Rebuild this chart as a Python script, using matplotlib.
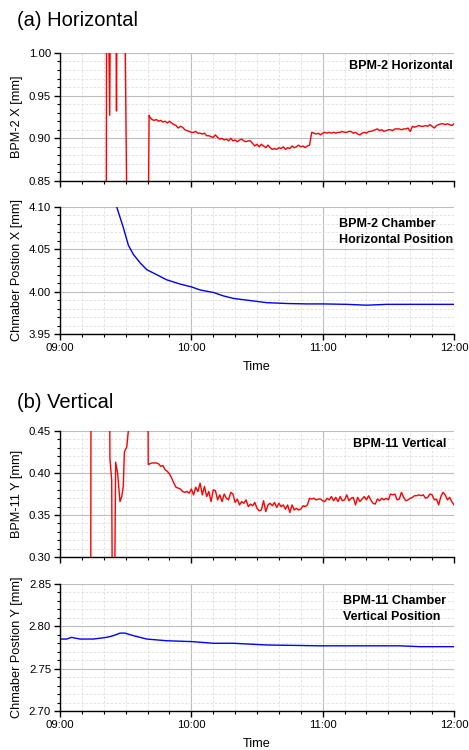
import numpy as np
import matplotlib
matplotlib.use('Agg')
import matplotlib.pyplot as plt
from matplotlib.ticker import MultipleLocator

plt.rcParams['font.family'] = ['Liberation Sans', 'DejaVu Sans']

# time axis: minutes after 09:00
tick_minutes = [0, 60, 120, 180]
tick_labels = ['09:00', '10:00', '11:00', '12:00']
minute_grid = np.arange(41, 181)

# (a) BPM-2 horizontal, start-up transient (off-scale values clipped by the axis)
bpm2_t_start = [21.0, 21.3, 21.9, 22.7, 23.1, 25.4, 25.8, 26.1, 29.4, 30.6, 40.3, 40.7]
bpm2_x_start = [0.60, 1.10, 1.10, 0.927, 1.10, 1.10, 0.932, 1.10, 1.10, 0.80, 0.80, 0.927]
bpm2_x = [
    0.925, 0.922, 0.921, 0.922, 0.920, 0.921, 0.919, 0.920, 0.918, 0.920,
    0.918, 0.916, 0.915, 0.912, 0.914, 0.913, 0.910, 0.909, 0.908, 0.907,
    0.907, 0.908, 0.906, 0.906, 0.905, 0.906, 0.903, 0.903, 0.902, 0.901,
    0.904, 0.901, 0.899, 0.900, 0.898, 0.899, 0.897, 0.900, 0.897, 0.898,
    0.896, 0.898, 0.899, 0.897, 0.896, 0.897, 0.897, 0.894, 0.891, 0.893,
    0.890, 0.893, 0.891, 0.889, 0.892, 0.889, 0.887, 0.888, 0.887, 0.889,
    0.888, 0.890, 0.887, 0.889, 0.888, 0.891, 0.889, 0.890, 0.892, 0.890,
    0.891, 0.889, 0.891, 0.892, 0.907, 0.906, 0.905, 0.906, 0.904, 0.906,
    0.907, 0.906, 0.907, 0.906, 0.907, 0.906, 0.907, 0.907, 0.908, 0.907,
    0.907, 0.908, 0.908, 0.906, 0.907, 0.905, 0.904, 0.906, 0.907, 0.906,
    0.908, 0.908, 0.909, 0.910, 0.911, 0.909, 0.910, 0.908, 0.909, 0.910,
    0.910, 0.909, 0.911, 0.911, 0.911, 0.910, 0.911, 0.911, 0.912, 0.908,
    0.914, 0.913, 0.914, 0.915, 0.914, 0.914, 0.915, 0.914, 0.916, 0.914,
    0.912, 0.915, 0.916, 0.917, 0.917, 0.916, 0.917, 0.916, 0.915, 0.917,
]

# BPM-2 chamber horizontal position
chamber_x_t = [25.9, 29.0, 31.2, 33.5, 36.6, 39.6, 44.2, 48.7, 54.8, 60.2, 64.0,
               70.1, 74.6, 79.2, 88.3, 94.4, 103.6, 112.7, 120.3, 131.0, 140.1,
               149.3, 180.0]
chamber_x = [4.100, 4.075, 4.055, 4.044, 4.034, 4.026, 4.020, 4.014, 4.009, 4.0055,
             4.002, 3.999, 3.995, 3.992, 3.989, 3.987, 3.986, 3.9855, 3.9855, 3.985,
             3.984, 3.985, 3.985]

# (b) BPM-11 vertical, start-up transient
bpm11_t_start = [14.0, 14.2, 22.4, 22.8, 23.6, 24.0, 24.8, 25.4, 26.3, 27.4, 28.2,
                 28.9, 29.4, 30.5, 31.2, 31.6, 40.0, 40.3]
bpm11_y_start = [0.20, 0.60, 0.60, 0.417, 0.392, 0.20, 0.20, 0.413, 0.400, 0.366, 0.372,
                 0.384, 0.425, 0.431, 0.450, 0.60, 0.60, 0.410]
bpm11_y = [
    0.411, 0.412, 0.412, 0.412, 0.411, 0.408, 0.409, 0.404, 0.402, 0.399,
    0.394, 0.388, 0.383, 0.382, 0.381, 0.378, 0.377, 0.378, 0.376, 0.381,
    0.374, 0.383, 0.378, 0.388, 0.374, 0.384, 0.372, 0.378, 0.366, 0.380,
    0.379, 0.368, 0.374, 0.366, 0.375, 0.370, 0.368, 0.377, 0.375, 0.365,
    0.369, 0.362, 0.366, 0.364, 0.368, 0.360, 0.363, 0.361, 0.365, 0.358,
    0.355, 0.356, 0.367, 0.354, 0.362, 0.364, 0.361, 0.365, 0.359, 0.364,
    0.360, 0.362, 0.357, 0.362, 0.353, 0.362, 0.356, 0.358, 0.356, 0.357,
    0.361, 0.360, 0.362, 0.370, 0.369, 0.370, 0.368, 0.369, 0.369, 0.367,
    0.366, 0.370, 0.368, 0.372, 0.367, 0.371, 0.366, 0.372, 0.367, 0.368,
    0.374, 0.367, 0.370, 0.371, 0.362, 0.371, 0.366, 0.369, 0.372, 0.368,
    0.373, 0.368, 0.364, 0.363, 0.369, 0.367, 0.370, 0.368, 0.370, 0.368,
    0.375, 0.374, 0.375, 0.368, 0.369, 0.377, 0.371, 0.367, 0.368, 0.370,
    0.371, 0.373, 0.373, 0.374, 0.373, 0.374, 0.370, 0.371, 0.375, 0.374,
    0.368, 0.369, 0.362, 0.372, 0.377, 0.374, 0.368, 0.371, 0.366, 0.362,
]

# BPM-11 chamber vertical position
chamber_y_t = [0.0, 3.0, 5.3, 9.1, 15.2, 21.3, 24.4, 27.4, 29.7, 33.5, 39.6, 48.7,
               60.2, 70.1, 79.2, 94.4, 118.8, 131.0, 137.1, 140.1, 155.3, 164.5, 180.0]
chamber_y = [2.785, 2.785, 2.787, 2.785, 2.785, 2.787, 2.789, 2.792, 2.792, 2.789,
             2.785, 2.783, 2.782, 2.780, 2.780, 2.778, 2.777, 2.777, 2.777, 2.777,
             2.777, 2.776, 2.776]


def style_axis(ax, ylo, yhi, ylabel, show_x):
    ax.set_xlim(0, 180)
    ax.set_ylim(ylo, yhi)
    ax.xaxis.set_major_locator(MultipleLocator(60))
    ax.xaxis.set_minor_locator(MultipleLocator(10))
    ax.yaxis.set_major_locator(MultipleLocator(0.05))
    ax.yaxis.set_minor_locator(MultipleLocator(0.01))
    ax.set_xticks(tick_minutes)
    if show_x:
        ax.set_xticklabels(tick_labels)
        ax.set_xlabel('Time', fontsize=9.2, labelpad=6)
    else:
        ax.set_xticklabels([])
    ax.yaxis.set_major_formatter(plt.FormatStrFormatter('%.2f'))
    ax.grid(which='major', color='#bdbdbd', linewidth=0.8, linestyle='-')
    ax.grid(which='minor', color='#dedede', linewidth=0.6, linestyle=(0, (3, 2)))
    ax.set_axisbelow(True)
    for s in ['top', 'right']:
        ax.spines[s].set_visible(False)
    for s in ['left', 'bottom']:
        ax.spines[s].set_linewidth(1.0)
    ax.tick_params(which='major', direction='out', length=4.5, width=1.0,
                   labelsize=8.2, pad=2)
    ax.tick_params(which='minor', direction='out', length=2.5, width=0.8)
    ax.set_ylabel(ylabel, fontsize=9.2, labelpad=4)


fig = plt.figure(figsize=(4.69, 7.5), dpi=100)
ax1 = fig.add_axes([0.128, 0.7587, 0.840, 0.1707])
ax2 = fig.add_axes([0.128, 0.5547, 0.840, 0.1693])
ax3 = fig.add_axes([0.128, 0.2573, 0.840, 0.1680])
ax4 = fig.add_axes([0.128, 0.0520, 0.840, 0.1693])

ax1.plot(bpm2_t_start + list(minute_grid), bpm2_x_start + bpm2_x, color='#ff0000', lw=1.0)
style_axis(ax1, 0.85, 1.00, 'BPM-2 X [mm]', False)
ax1.text(0.997, 0.9, 'BPM-2 Horizontal', transform=ax1.transAxes, ha='right',
         va='center', fontsize=9, fontweight='bold')

ax2.plot(chamber_x_t, chamber_x, color='#0000ff', lw=1.0)
style_axis(ax2, 3.95, 4.10, 'Chmaber Postion X [mm]', True)
ax2.text(0.708, 0.80, 'BPM-2 Chamber\nHorizontal Position', transform=ax2.transAxes,
         ha='left', va='center', fontsize=9, fontweight='bold', linespacing=1.45)

ax3.plot(bpm11_t_start + list(minute_grid), bpm11_y_start + bpm11_y, color='#ff0000', lw=1.0)
style_axis(ax3, 0.30, 0.45, 'BPM-11 Y [mm]', False)
ax3.text(0.98, 0.9, 'BPM-11 Vertical', transform=ax3.transAxes, ha='right',
         va='center', fontsize=9, fontweight='bold')

ax4.plot(chamber_y_t, chamber_y, color='#0000ff', lw=1.0)
style_axis(ax4, 2.70, 2.85, 'Chmaber Postion Y [mm]', True)
ax4.text(0.717, 0.80, 'BPM-11 Chamber\nVertical Position', transform=ax4.transAxes,
         ha='left', va='center', fontsize=9, fontweight='bold', linespacing=1.45)

fig.text(0.036, 0.973, '(a) Horizontal', fontsize=14.5, ha='left', va='center')
fig.text(0.036, 0.464, '(b) Vertical', fontsize=14.5, ha='left', va='center')

fig.savefig('out.png', dpi=100)
